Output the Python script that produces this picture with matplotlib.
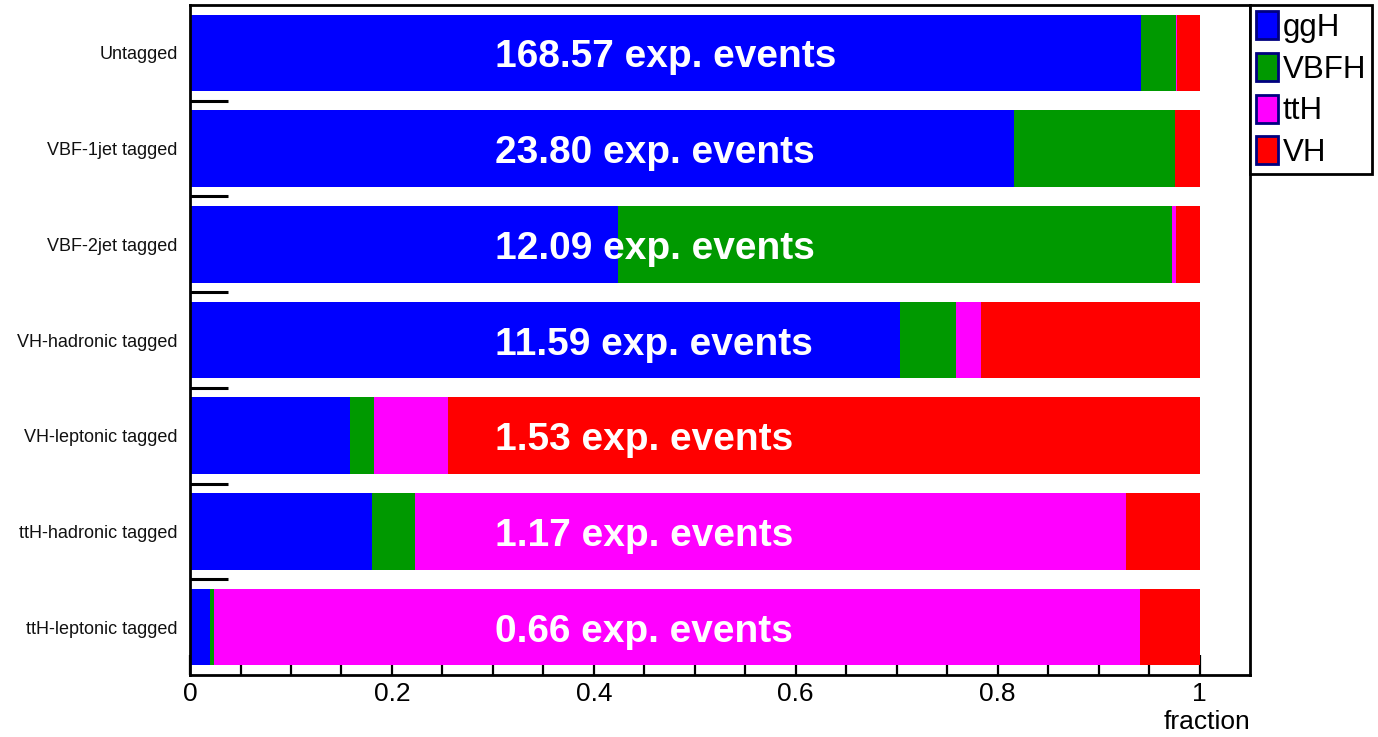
"""
Stacked horizontal bar chart of the signal composition per event category,
drawn in the style of a ROOT canvas.
"""

import matplotlib
matplotlib.use("Agg")
import matplotlib.pyplot as plt
from matplotlib.patches import Patch
import numpy as np

plt.rcParams["font.family"] = ["Liberation Sans", "DejaVu Sans"]

categories = ["Untagged", "VBF-1jet tagged", "VBF-2jet tagged",
              "VH-hadronic tagged", "VH-leptonic tagged",
              "ttH-hadronic tagged", "ttH-leptonic tagged"]
expected_events = ["168.57", "23.80", "12.09", "11.59", "1.53", "1.17", "0.66"]

processes = ["ggH", "VBFH", "ttH", "VH"]
frac_ggH = [0.9425, 0.816, 0.424, 0.703, 0.158, 0.180, 0.0195]
frac_VBFH = [0.0345, 0.160, 0.549, 0.056, 0.024, 0.043, 0.0045]
frac_ttH = [0.001, 0.000, 0.0036, 0.025, 0.074, 0.704, 0.917]
frac_VH = [0.022, 0.024, 0.0234, 0.216, 0.744, 0.073, 0.059]

colors = ["#0000ff", "#009900", "#ff00ff", "#ff0000"]

fig = plt.figure(figsize=(13.78, 7.37), dpi=100)
ax = fig.add_axes([0.1379, 0.0841, 0.7692, 0.9091])

ypos = np.arange(len(categories))
left = np.zeros(len(categories))
for name, vals, col in zip(processes, [frac_ggH, frac_VBFH, frac_ttH, frac_VH], colors):
    ax.barh(ypos, vals, left=left, height=0.8, color=col, linewidth=0, label=name)
    left += np.array(vals)

# event counts written over each bar
for y, n in zip(ypos, expected_events):
    ax.text(0.302, y + 0.152, f"{n} exp. events", color="white", fontsize=28,
            fontweight="bold", ha="left", va="baseline")

ax.set_xlim(0, 1.05)
ax.set_ylim(len(categories) - 0.5, -0.5)
ax.set_axisbelow(True)

ax.set_xticks(np.arange(0, 1.01, 0.2))
ax.set_xticklabels(["0", "0.2", "0.4", "0.6", "0.8", "1"])
ax.set_xticks(np.arange(0, 1.001, 0.05), minor=True)
ax.tick_params(axis="x", which="major", direction="in", length=14.4, width=1.6,
               labelsize=19, pad=5)
ax.tick_params(axis="x", which="minor", direction="in", length=7.2, width=1.6)

ax.set_yticks(ypos)
ax.set_yticklabels(categories)
ax.set_yticks(ypos[:-1] + 0.5, minor=True)
ax.tick_params(axis="y", which="major", length=0, labelsize=13, pad=9,
               labelcolor="#111111")
ax.tick_params(axis="y", which="minor", direction="in", length=27.4, width=2.2)

for sp in ax.spines.values():
    sp.set_linewidth(2.0)

ax.set_xlabel("fraction", fontsize=19, ha="right", va="center")
ax.xaxis.set_label_coords(1.0, -0.070)

handles = [Patch(facecolor=c, edgecolor="#000080", linewidth=2) for c in colors]
leg = ax.legend(handles, processes, loc="upper left", bbox_to_anchor=(1.0, 1.0),
                borderaxespad=0, fontsize=22.5, fancybox=False, framealpha=1,
                edgecolor="black", handlelength=0.7, handleheight=1.0,
                handletextpad=0.15, labelspacing=0.32, borderpad=0.2)
leg.get_frame().set_linewidth(2.0)

fig.savefig("out.png", dpi=100)
plt.close(fig)
